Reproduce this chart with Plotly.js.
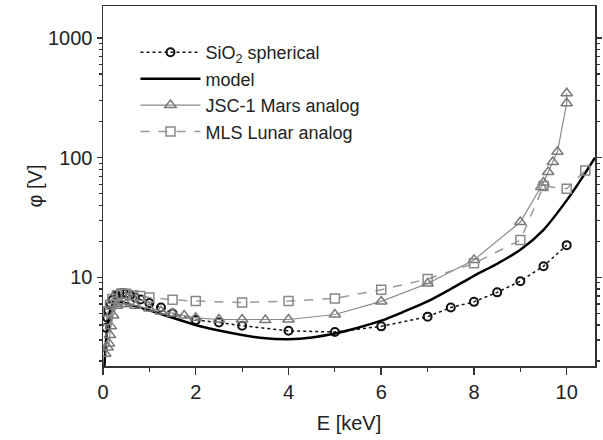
<!DOCTYPE html>
<html>
<head>
<meta charset="utf-8">
<script src="https://cdn.plot.ly/plotly-3.0.1.min.js"></script>
<style>html,body{margin:0;padding:0;background:#fff;}#chart{width:603px;height:440px;}</style>
</head>
<body>
<div id="chart"></div>
<script>
// SiO2 spherical (circles, dotted)
const sioE   = [0.065,0.093,0.114,0.166,0.21,0.28,0.35,0.42,0.49,0.58,0.69,0.81,1.0,1.25,1.5,2.0,2.5,3.0,4.0,5.0,6.0,7.0,7.5,8.0,8.5,9.0,9.5,10.0];
const sioPhi = [3.8,4.6,5.3,5.9,6.5,7.1,7.35,7.4,7.35,7.1,6.8,6.55,6.1,5.6,5.0,4.4,4.2,3.95,3.58,3.5,3.9,4.7,5.6,6.25,7.5,9.3,12.4,18.6];
// model (solid)
const modelE   = [0.03,0.06,0.1,0.15,0.2,0.3,0.4,0.6,0.8,1.0,1.5,2.0,2.5,3.0,3.5,4.0,4.5,5.0,5.5,6.0,6.5,7.0,7.5,8.0,8.5,9.0,9.5,10.0,10.3,10.61];
const modelPhi = [1.8,2.8,4.0,5.2,5.8,6.2,6.2,5.9,5.6,5.3,4.6,4.0,3.6,3.3,3.1,3.05,3.15,3.4,3.8,4.35,5.2,6.3,8.0,10.3,13.0,17,25,44,65,100];
// JSC-1 Mars analog (triangles, thin solid)
const jscE   = [0.05,0.1,0.13,0.15,0.17,0.22,0.3,0.4,0.5,0.7,1.0,1.25,1.5,1.75,2.0,2.5,3.0,3.5,4.0,5.0,6.0,7.0,8.0,9.0,9.45,9.5,9.6,9.7,9.8,10.0,10.0];
const jscPhi = [2.3,2.6,2.8,3.3,3.9,4.8,5.8,6.0,6.0,5.8,5.5,5.2,5.0,4.8,4.6,4.45,4.45,4.4,4.45,4.9,6.3,8.9,14,29,57,62,76,92,112,285,345];
// MLS Lunar analog (squares, dashed)
const mlsE   = [0.08,0.1,0.15,0.2,0.3,0.4,0.5,0.65,0.8,1.0,1.5,2.0,3.0,4.0,5.0,6.0,7.0,8.0,9.0,9.5,10.0,10.4];
const mlsPhi = [4.4,5.2,5.9,6.6,7.1,7.3,7.3,7.1,7.0,6.8,6.5,6.34,6.18,6.34,6.68,7.9,9.7,13.1,20.5,58,55,78];

const FONT = 'Liberation Sans, Arial, Helvetica, sans-serif';

const traces = [
  {x: sioE, y: sioPhi, name: 'SiO<sub>2</sub> spherical', mode: 'lines+markers', type: 'scatter',
   line: {color: '#111', width: 1.5, dash: 'dot'},
   marker: {symbol: 'circle-open', size: 8, color: '#111', line: {width: 2, color: '#111'}}},
  {x: modelE, y: modelPhi, name: 'model', mode: 'lines', type: 'scatter',
   line: {color: '#000', width: 2.5, shape: 'spline', smoothing: 0.8}},
  {x: jscE, y: jscPhi, name: 'JSC-1 Mars analog', mode: 'lines+markers', type: 'scatter',
   line: {color: '#8a8a8a', width: 1.2},
   marker: {symbol: 'triangle-up-open', size: 10, color: '#7a7a7a', line: {width: 1.5, color: '#7a7a7a'}}},
  {x: mlsE, y: mlsPhi, name: 'MLS Lunar analog', mode: 'lines+markers', type: 'scatter',
   line: {color: '#999', width: 1.5, dash: 'dash'},
   marker: {symbol: 'square-open', size: 9, color: '#888', line: {width: 1.5, color: '#888'}}}
];

const layout = {
  width: 603, height: 440,
  margin: {l: 103, r: 8, t: 6, b: 74},
  paper_bgcolor: '#fff', plot_bgcolor: '#fff',
  font: {family: FONT, size: 19, color: '#222'},
  showlegend: true,
  legend: {x: 0.066, y: 0.922, xanchor: 'left', yanchor: 'top', bgcolor: 'rgba(0,0,0,0)',
           font: {family: FONT, size: 18, color: '#222'}, itemwidth: 60, tracegroupgap: 0},
  xaxis: {
    range: [0, 10.61], showgrid: false, zeroline: false,
    showline: true, linecolor: '#333', linewidth: 1.5, mirror: true,
    ticks: 'outside', ticklen: 7, tickwidth: 1.5, tickcolor: '#333',
    dtick: 2, tick0: 0,
    minor: {ticks: 'outside', ticklen: 4, tickwidth: 1.2, tickcolor: '#333', dtick: 1, showgrid: false},
    tickfont: {family: FONT, size: 20, color: '#222'},
    title: {text: 'E [keV]', font: {family: FONT, size: 20, color: '#222'}, standoff: 14}
  },
  yaxis: {
    type: 'log', range: [0.26, 3.267], showgrid: false, zeroline: false,
    showline: true, linecolor: '#333', linewidth: 1.5, mirror: 'ticks',
    ticks: 'outside', ticklen: 5, tickwidth: 1.5, tickcolor: '#333',
    tickvals: [10, 100, 1000], ticktext: ['10', '100', '1000'],
    minor: {ticks: 'outside', ticklen: 3, tickwidth: 1.2, tickcolor: '#333', dtick: 'D1', showgrid: false},
    tickfont: {family: FONT, size: 20, color: '#222'},
    title: {text: 'φ [V]', font: {family: FONT, size: 20, color: '#222'}, standoff: 0}
  }
};

Plotly.newPlot('chart', traces, layout, {displayModeBar: false, staticPlot: true});
</script>
</body>
</html>
